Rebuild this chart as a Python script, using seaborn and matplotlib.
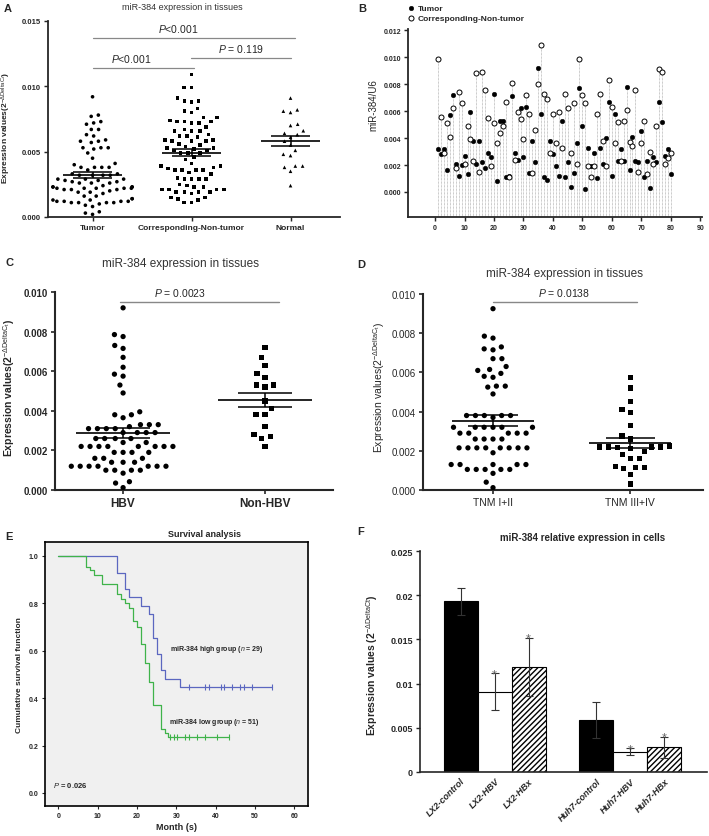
import numpy as np
import pandas as pd
import matplotlib
matplotlib.use('Agg')
import matplotlib.pyplot as plt
import seaborn as sns

# --- values ---

# panel B / A: paired samples 1..80 (tumor vs corresponding non-tumor)
tumor = [0.0032, 0.0028, 0.0032, 0.0016, 0.0057, 0.0072, 0.0021, 0.0012, 0.0020, 0.0027,
         0.0013, 0.0059, 0.0038, 0.0021, 0.0038, 0.0022, 0.0018, 0.0029, 0.0026, 0.0073,
         0.0008, 0.0053, 0.0053, 0.0011, 0.0012, 0.0071, 0.0029, 0.0024, 0.0062, 0.0026,
         0.0063, 0.0014, 0.0038, 0.0022, 0.0092, 0.0058, 0.0011, 0.0009, 0.0038, 0.0028,
         0.0019, 0.0012, 0.0053, 0.0011, 0.0022, 0.0004, 0.0014, 0.0036, 0.0077, 0.0049,
         0.0002, 0.0033, 0.0019, 0.0029, 0.0010, 0.0033, 0.0021, 0.0040, 0.0067, 0.0012,
         0.0058, 0.0023, 0.0032, 0.0023, 0.0078, 0.0016, 0.0041, 0.0023, 0.0022, 0.0045,
         0.0011, 0.0023, 0.0003, 0.0026, 0.0022, 0.0067, 0.0052, 0.0027, 0.0032, 0.0013]
non_tumor = [0.0099, 0.0056, 0.0029, 0.0051, 0.0041, 0.0062, 0.0018, 0.0074, 0.0066, 0.0021,
             0.0049, 0.0039, 0.0023, 0.0088, 0.0015, 0.0089, 0.0076, 0.0055, 0.0019, 0.0051,
             0.0036, 0.0044, 0.0049, 0.0067, 0.0011, 0.0081, 0.0024, 0.0059, 0.0054, 0.0039,
             0.0072, 0.0058, 0.0014, 0.0046, 0.0080, 0.0109, 0.0073, 0.0069, 0.0029, 0.0058,
             0.0036, 0.0059, 0.0033, 0.0073, 0.0062, 0.0029, 0.0066, 0.0021, 0.0099, 0.0072,
             0.0066, 0.0019, 0.0011, 0.0019, 0.0058, 0.0073, 0.0038, 0.0019, 0.0083, 0.0063,
             0.0036, 0.0052, 0.0023, 0.0053, 0.0061, 0.0037, 0.0034, 0.0076, 0.0015, 0.0036,
             0.0053, 0.0013, 0.0030, 0.0021, 0.0049, 0.0091, 0.0089, 0.0021, 0.0025, 0.0029]
normal = [0.0091, 0.0082, 0.0081, 0.0080, 0.0071, 0.0070, 0.0066, 0.0064, 0.0063, 0.0061,
          0.0058, 0.0055, 0.0051, 0.0048, 0.0047, 0.0039, 0.0039, 0.0038, 0.0035, 0.0024]
groups_a = ['Tumor', 'Corresponding-Non-tumor', 'Normal']

# panel C
hbv = [0.0092, 0.00785, 0.00775, 0.0073, 0.00715, 0.0067, 0.0062, 0.00585, 0.00575, 0.0053,
       0.0049, 0.00395, 0.0038, 0.0038, 0.00365, 0.0033, 0.0033, 0.0032, 0.0033,
       0.0031, 0.0031, 0.0031, 0.0031, 0.0029, 0.0029, 0.0029, 0.0029,
       0.0026, 0.0026, 0.0026, 0.0026, 0.0024, 0.0024,
       0.0022, 0.0022, 0.0022, 0.0022, 0.0022, 0.0022, 0.0022, 0.0022,
       0.0019, 0.0019, 0.0019, 0.0019, 0.0016, 0.0016, 0.0016, 0.0014, 0.0014, 0.0014,
       0.0012, 0.0012, 0.0012, 0.0012, 0.0012, 0.0012, 0.0012,
       0.0010, 0.0010, 0.0010, 0.0010, 0.00085, 0.00042, 0.00035, 0.00012]
non_hbv = [0.0072, 0.0067, 0.0063, 0.0059, 0.0057, 0.0053, 0.0053, 0.0052, 0.0045,
           0.0041, 0.0038, 0.0038, 0.0032, 0.0028, 0.0027, 0.0026, 0.0022]
groups_c = ['HBV', 'Non-HBV']

# panel D
tnm_early = [0.00925, 0.00785, 0.00775, 0.0073, 0.0072, 0.00715, 0.0067, 0.0067, 0.0063,
             0.00615, 0.0061, 0.00595, 0.0058, 0.00575, 0.0053, 0.0053, 0.00525, 0.0049,
             0.0038, 0.0038, 0.0038, 0.0038, 0.0038, 0.0037,
             0.0032, 0.0032, 0.0032, 0.0032, 0.0032, 0.0032,
             0.0029, 0.0029, 0.0029, 0.0029, 0.0029, 0.0026, 0.0026, 0.0026, 0.0026,
             0.00215, 0.00215, 0.00215, 0.00215, 0.00215, 0.00215, 0.00215, 0.00215, 0.0019,
             0.0013, 0.0013, 0.0013, 0.0013, 0.0013,
             0.00105, 0.00105, 0.00105, 0.00105, 0.00105, 0.00085, 0.0004, 0.00012]
tnm_late = [0.00575, 0.0052, 0.0045, 0.0041, 0.00395, 0.0033, 0.00275, 0.0026, 0.00225,
            0.0022, 0.0022, 0.0022, 0.0022, 0.00215, 0.0021, 0.00195, 0.0018, 0.0016,
            0.0016, 0.0012, 0.00115, 0.00115, 0.0011, 0.0008, 0.0003]
groups_d = ['TNM I+II', 'TNM III+IV']

# panel E: Kaplan-Meier steps
km_high_t = [0, 15, 17, 18, 21, 23, 24, 25, 26, 27, 31, 54.3]
km_high_s = [1.0, 0.93, 0.862, 0.828, 0.79, 0.757, 0.655, 0.586, 0.517, 0.483, 0.448, 0.448]
km_high_cens = [33.2, 37.3, 38.2, 41.3, 42.2, 44.1, 46.2, 47.3, 49.3, 54.3]
km_low_t = [0, 7, 8, 9, 11, 15, 16, 17, 18, 19, 20, 21, 22, 23, 24, 26, 27, 28, 43.5]
km_low_s = [1.0, 0.955, 0.94, 0.92, 0.88, 0.84, 0.82, 0.80, 0.78, 0.725, 0.70, 0.63, 0.55,
            0.47, 0.37, 0.272, 0.255, 0.235, 0.235]
km_low_cens = [28.4, 29.3, 30.1, 32.2, 33.3, 35.2, 37.3, 40.3, 43.5]

# panel F
cell_lines = ['LX2-control', 'LX2-HBV', 'LX2-HBx', 'Huh7-control', 'Huh7-HBV', 'Huh7-HBx']
cell_means = [0.0193, 0.0091, 0.0119, 0.0059, 0.0023, 0.0028]
cell_err = [0.0015, 0.0021, 0.0033, 0.0020, 0.0004, 0.0012]
cell_sig = ['', '*', '*', '', '*', '*']

# --- style ---
sns.set_style('ticks')
plt.rcParams['font.family'] = ['Liberation Sans', 'DejaVu Sans']
plt.rcParams['mathtext.fontset'] = 'custom'
plt.rcParams['mathtext.rm'] = 'Liberation Sans'
plt.rcParams['mathtext.it'] = 'Liberation Sans:italic'
plt.rcParams['mathtext.bf'] = 'Liberation Sans:bold'
plt.rcParams['hatch.linewidth'] = 1.0

W, H = 709, 837
fig = plt.figure(figsize=(W / 100, H / 100), dpi=100)


def axes_px(l, t, r, b):
    return fig.add_axes([l / W, 1 - b / H, (r - l) / W, (b - t) / H])


def ftext(x, y, s, **kw):
    kw.setdefault('ha', 'center')
    kw.setdefault('va', 'center')
    fig.text(x / W, 1 - y / H, s, **kw)


def style_axes(ax, lw=1.3):
    sns.despine(ax=ax)
    for sp in ['left', 'bottom']:
        ax.spines[sp].set_linewidth(lw)
    ax.tick_params(width=lw * 0.8, length=3, pad=2)


def mean_sem(ax, groups, half_mean, half_sem):
    for i, vals in enumerate(groups):
        v = np.asarray(vals)
        m = v.mean()
        se = v.std(ddof=1) / np.sqrt(len(v))
        ax.hlines(m, i - half_mean, i + half_mean, color='black', lw=1.2, zorder=4)
        ax.hlines([m - se, m + se], i - half_sem, i + half_sem, color='black', lw=1.1, zorder=4)
        ax.vlines(i, m - se, m + se, color='black', lw=1.1, zorder=4)


def swarm(ax, groups, names, markers, size, pad):
    # invisible edge width widens the swarm spacing like GraphPad's scatter
    df = pd.DataFrame({'group': np.repeat(names, [len(g) for g in groups]),
                       'value': np.concatenate(groups)})
    for name, mk in zip(names, markers):
        sns.swarmplot(data=df[df.group == name], x='group', y='value', order=names,
                      marker=mk, color='black', size=size, linewidth=pad,
                      edgecolor='none', ax=ax, zorder=3)


ylab = r'Expression values(2$^{-\Delta \mathrm{DeltaC_t}}$)'

# ---------------- A ----------------
ax = axes_px(48, 22, 340, 218)
swarm(ax, [tumor, non_tumor, normal], groups_a, ['o', 's', '^'], 2.6, 2.4)
mean_sem(ax, [tumor, non_tumor, normal], 0.3, 0.2)
ax.set_xlim(-0.45, 2.5)
ax.set_ylim(0, 0.015)
ax.set_yticks([0, 0.005, 0.010, 0.015])
ax.set_yticklabels(['0.000', '0.005', '0.010', '0.015'], fontsize=5.5, fontweight='bold')
ax.set_xticks(range(3))
ax.set_xticklabels(groups_a, fontsize=6, fontweight='bold')
ax.set_xlabel('')
ax.set_ylabel(ylab, fontsize=6, fontweight='bold')
ax.yaxis.set_label_coords(-0.12, 0.46)
style_axes(ax)
for x0, x1, y, txt, tx in [(0, 2.05, 0.0137, r'$P$<0.001', 0.87),
                           (0, 1.02, 0.0114, r'$P$<0.001', 0.39),
                           (0.99, 2.0, 0.01217, r'$P$ = 0.119', 1.5)]:
    ax.plot([x0, x1], [y, y], color='#888888', lw=0.9)
    ax.text(tx, y + 0.0003, txt, ha='center', va='bottom', fontsize=7.5)
ftext(182, 7, 'miR-384 expression in tissues', fontsize=6.5, color='#333333')
ftext(8, 9, 'A', fontsize=8, fontweight='bold')

# ---------------- B ----------------
ax = axes_px(408, 30, 702, 218)
samples = np.arange(1, len(tumor) + 1)
ybot = -0.00186
ax.vlines(samples, ybot, np.maximum(tumor, non_tumor), colors='#9a9a9a',
          linestyles=(0, (1, 1)), lw=0.5, zorder=1)
sns.scatterplot(x=samples, y=tumor, color='black', s=11, edgecolor='black',
                linewidth=0.3, label='Tumor', ax=ax, zorder=3)
sns.scatterplot(x=samples, y=non_tumor, color='white', s=13, edgecolor='black',
                linewidth=0.7, label='Corresponding-Non-tumor', ax=ax, zorder=4)
ax.set_xlim(-9.2, 90.6)
ax.set_ylim(ybot, 0.0121)
ax.set_xticks(range(0, 91, 10))
ax.set_xticklabels([str(v) for v in range(0, 91, 10)], fontsize=5, fontweight='bold')
ax.set_yticks(np.arange(0, 0.0121, 0.002))
ax.set_yticklabels(['0.000', '0.002', '0.004', '0.006', '0.008', '0.010', '0.012'],
                   fontsize=5, fontweight='bold')
ax.set_ylabel('miR-384/U6', fontsize=7)
ax.yaxis.set_label_coords(-0.1, 0.6)
style_axes(ax)
ax.legend(loc='upper left', bbox_to_anchor=(0.0, 1.13), frameon=False,
          prop={'size': 6, 'weight': 'bold'}, handlelength=0.8, handletextpad=0.4,
          labelspacing=0.25, borderpad=0, borderaxespad=0)
ftext(362, 9, 'B', fontsize=8, fontweight='bold')

# ---------------- C ----------------
ax = axes_px(55, 293, 333, 491)
swarm(ax, [hbv, non_hbv], groups_c, ['o', 's'], 3.8, 2.3)
mean_sem(ax, [hbv, non_hbv], 0.33, 0.19)
ax.set_xlim(-0.48, 1.48)
ax.set_ylim(0, 0.010)
ax.set_yticks(np.arange(0, 0.0101, 0.002))
ax.set_yticklabels(['0.000', '0.002', '0.004', '0.006', '0.008', '0.010'],
                   fontsize=7, fontweight='bold')
ax.set_xticks(range(2))
ax.set_xticklabels(groups_c, fontsize=8.5, fontweight='bold')
ax.set_xlabel('')
ax.set_ylabel(ylab, fontsize=7.5, fontweight='bold')
ax.yaxis.set_label_coords(-0.135, 0.52)
style_axes(ax, 1.5)
ax.plot([-0.02, 1.1], [0.0095, 0.0095], color='#888888', lw=1.0)
ax.text(0.4, 0.0097, r'$P$ = 0.0023', ha='center', va='bottom', fontsize=7.5)
ftext(180, 264, 'miR-384 expression in tissues', fontsize=8.5, color='#333333')
ftext(9, 263, 'C', fontsize=8, fontweight='bold')

# ---------------- D ----------------
ax = axes_px(423, 295, 703, 491)
swarm(ax, [tnm_early, tnm_late], groups_d, ['o', 's'], 3.8, 2.3)
mean_sem(ax, [tnm_early, tnm_late], 0.3, 0.18)
ax.set_xlim(-0.51, 1.53)
ax.set_ylim(0, 0.010)
ax.set_yticks(np.arange(0, 0.0101, 0.002))
ax.set_yticklabels(['0.000', '0.002', '0.004', '0.006', '0.008', '0.010'], fontsize=7)
ax.set_xticks(range(2))
ax.set_xticklabels(groups_d, fontsize=7.5)
ax.set_xlabel('')
ax.set_ylabel(ylab, fontsize=7.5)
ax.yaxis.set_label_coords(-0.13, 0.53)
style_axes(ax, 1.5)
ax.plot([0, 1.05], [0.0096, 0.0096], color='#888888', lw=1.0)
ax.text(0.52, 0.0098, r'$P$ = 0.0138', ha='center', va='bottom', fontsize=7.5)
ftext(565, 274, 'miR-384 expression in tissues', fontsize=8.5, color='#333333')
ftext(361, 265, 'D', fontsize=8, fontweight='bold')

# ---------------- E ----------------
ax = axes_px(45, 543, 308, 807)
ax.set_facecolor('#f0f0f0')
blue, green = '#5b67c0', '#3fb34a'
sns.lineplot(x=km_high_t, y=km_high_s, drawstyle='steps-post', color=blue, lw=0.9, ax=ax)
sns.lineplot(x=km_low_t, y=km_low_s, drawstyle='steps-post', color=green, lw=0.9, ax=ax)
for t, s, c, col in [(km_high_t, km_high_s, km_high_cens, blue),
                     (km_low_t, km_low_s, km_low_cens, green)]:
    idx = np.searchsorted(t, c, side='right') - 1
    sns.scatterplot(x=c, y=np.asarray(s)[idx], marker='|', s=14, color=col,
                    linewidth=0.8, ax=ax)
ax.set_xlim(-3.4, 63.5)
ax.set_ylim(-0.055, 1.059)
ax.set_xticks(range(0, 61, 10))
ax.set_xticklabels([str(v) for v in range(0, 61, 10)], fontsize=5, fontweight='bold')
ax.set_yticks(np.arange(0, 1.01, 0.2))
ax.set_yticklabels(['0.0', '0.2', '0.4', '0.6', '0.8', '1.0'], fontsize=5, fontweight='bold')
for sp in ax.spines.values():
    sp.set_linewidth(1.2)
    sp.set_color('black')
ax.tick_params(length=2.5, width=0.8, pad=2)
ax.set_xlabel('Month (s)', fontsize=6.5, fontweight='bold', labelpad=2)
ax.set_ylabel('Cumulative survival function', fontsize=6, fontweight='bold')
ax.yaxis.set_label_coords(-0.085, 0.5)
ftext(217, 650, r'miR-384 high group ($n$ = 29)', fontsize=5, fontweight='bold')
ftext(214, 723, r'miR-384 low group ($n$ = 51)', fontsize=5, fontweight='bold')
ftext(70, 786, r'$P$ = 0.026', fontsize=5.5, fontweight='bold')
ftext(205, 535, 'Survival analysis', fontsize=6.5, fontweight='bold')
ftext(9, 537, 'E', fontsize=8, fontweight='bold')

# ---------------- F ----------------
ax = axes_px(420, 552, 707, 773)
order_f = cell_lines[:3] + [' '] + cell_lines[3:]
df_f = pd.DataFrame({'line': cell_lines, 'value': cell_means})
sns.barplot(data=df_f, x='line', y='value', order=order_f, width=1.0, color='white',
            edgecolor='black', linewidth=0.8, ax=ax, zorder=2)
centers = []
for p in ax.patches:
    xc = p.get_x() + p.get_width() / 2
    name = order_f[int(round(xc))]
    if name.endswith('control'):
        p.set_facecolor('black')
    elif name.endswith('HBx'):
        p.set_facecolor('white')
        p.set_hatch('//////')
    centers.append((xc, name))
centers.sort()
xs = [c[0] for c in centers]
ax.errorbar(xs, cell_means, yerr=cell_err, fmt='none', ecolor='#333333',
            elinewidth=0.8, capsize=3, capthick=0.8, zorder=3)
for x, m, e, s in zip(xs, cell_means, cell_err, cell_sig):
    if s:
        ax.text(x, m + e - 0.0008, s, ha='center', va='bottom', fontsize=9, color='#666666')
ax.set_xlim(-1.2, 7.26)
ax.set_ylim(0, 0.025)
ax.set_yticks([0, 0.005, 0.01, 0.015, 0.02, 0.025])
ax.set_yticklabels(['0', '0.005', '0.01', '0.015', '0.02', '0.025'], fontsize=6.5,
                   fontweight='bold')
ax.set_xticks(xs)
ax.set_xticklabels(cell_lines, rotation=45, ha='right', rotation_mode='anchor',
                   fontsize=6.5, fontweight='bold', fontstyle='italic')
ax.tick_params(axis='x', length=0, pad=3)
ax.tick_params(axis='y', length=3, width=1, pad=2)
sns.despine(ax=ax)
ax.spines['left'].set_linewidth(1.2)
ax.spines['bottom'].set_linewidth(1.2)
ax.set_xlabel('')
ax.set_ylabel(r'Expression values (2$^{-\Delta \mathrm{DeltaCt}}$)', fontsize=7.5,
              fontweight='bold')
ax.yaxis.set_label_coords(-0.14, 0.49)
ftext(583, 538, 'miR-384 relative expression in cells', fontsize=7, fontweight='bold')
ftext(361, 532, 'F', fontsize=8, fontweight='bold')

fig.savefig('out.png', dpi=100)
